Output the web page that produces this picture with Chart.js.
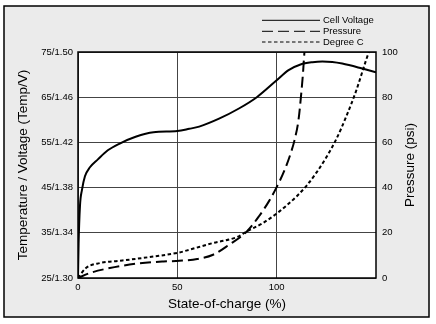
<!DOCTYPE html>
<html>
<head>
<meta charset="utf-8">
<script src="https://cdn.jsdelivr.net/npm/chart.js@4/dist/chart.umd.min.js"></script>
<style>
  html, body { margin: 0; padding: 0; background: #fff; }
  canvas { display: block; }
</style>
</head>
<body>
<canvas id="mychart" width="436" height="324"></canvas>
<script>
// state-of-charge (%) / values
const voltSoc = [0, 0.3, 1, 2, 3.5, 6, 10, 15, 21, 29, 38, 50, 56, 61, 71, 81, 90, 100, 106, 112, 118, 123, 128, 133, 143, 150];
const cellVoltage = [1.300, 1.330, 1.364, 1.378, 1.390, 1.398, 1.405, 1.413, 1.419, 1.425, 1.429, 1.430, 1.432, 1.434, 1.441, 1.450, 1.460, 1.475, 1.484, 1.489, 1.491, 1.4916, 1.4912, 1.4898, 1.4854, 1.4820];

const pressSoc = [0, 6, 16, 29, 43, 51, 60, 68, 76, 85, 91, 96, 100, 104, 107, 109, 111, 112.2, 113.2, 114, 115];
const pressure = [0, 2.2, 4.4, 6.3, 7.3, 7.6, 8.4, 10.3, 14.7, 20.6, 27.2, 33.8, 40.2, 47.8, 55, 61, 70, 80, 90, 100, 106];

const tempSoc = [0, 4, 11, 21, 38, 51, 56, 68, 80, 85, 93, 100, 105, 110, 115, 120, 125, 130, 135, 140, 145, 148];
const degreeC = [25, 27.2, 28.3, 28.8, 29.75, 30.65, 31.25, 32.75, 34.05, 35.3, 37.15, 39.25, 41.05, 43.05, 45.4, 48.3, 51.7, 55.7, 60.7, 66.4, 73.2, 77];

const xTicks = [0, 50, 100];
const leftTickLabels = ['25/1.30', '35/1.34', '45/1.38', '55/1.42', '65/1.46', '75/1.50'];
const rightTicks = [0, 20, 40, 60, 80, 100];

const FONT = "'Liberation Sans', Arial, sans-serif";

function pts(xs, ys) {
    return xs.map((x, i) => ({ x: x, y: ys[i] }));
}

// gray panel + frame round the plot, custom legend, right title
const decor = {
    id: 'decor',
    beforeDraw(chart) {
        const c = chart.ctx;
        const a = chart.chartArea;
        c.save();
        c.fillStyle = '#fff';
        c.fillRect(0, 0, chart.width, chart.height);
        c.fillStyle = '#ebebeb';
        c.fillRect(4, 6, 425, 311);
        c.strokeStyle = '#000';
        c.lineWidth = 1.5;
        c.strokeRect(4, 6, 425, 311);
        c.fillStyle = '#fff';
        c.fillRect(a.left, a.top, a.right - a.left, a.bottom - a.top);
        c.restore();
    },
    afterDraw(chart) {
        const c = chart.ctx;
        const a = chart.chartArea;
        c.save();
        c.strokeStyle = '#000';
        c.lineWidth = 1.5;
        c.strokeRect(a.left, a.top, a.right - a.left, a.bottom - a.top);

        // legend
        c.font = '9.5px ' + FONT;
        c.textBaseline = 'middle';
        c.fillStyle = '#000';
        const rows = [20.3, 31.3, 42];
        chart.data.datasets.forEach((ds, i) => {
            c.beginPath();
            c.lineWidth = 1;
            c.setLineDash(ds.borderDash || []);
            c.moveTo(262, rows[i]);
            c.lineTo(320, rows[i]);
            c.stroke();
            c.setLineDash([]);
            c.fillText(ds.label, 323, rows[i]);
        });

        // right axis title, reads bottom to top
        c.translate(410, (a.top + a.bottom) / 2);
        c.rotate(-Math.PI / 2);
        c.font = '13.5px ' + FONT;
        c.textAlign = 'center';
        c.fillText('Pressure (psi)', 0, 0);
        c.restore();
    }
};

const ctx = document.getElementById('mychart');
const myChart = new Chart(ctx, {
    type: 'line',
    data: {
        datasets: [{
            label: 'Cell Voltage',
            data: pts(voltSoc, cellVoltage),
            yAxisID: 'yv',
            borderColor: '#000',
            borderWidth: 2,
        }, {
            label: 'Pressure',
            data: pts(pressSoc, pressure),
            yAxisID: 'yp',
            borderColor: '#000',
            borderWidth: 2,
            borderDash: [11, 5],
        }, {
            label: 'Degree C',
            data: pts(tempSoc, degreeC),
            yAxisID: 'y',
            borderColor: '#000',
            borderWidth: 2,
            borderDash: [3.5, 2.5],
        }]
    },
    options: {
        responsive: false,
        animation: false,
        devicePixelRatio: 1,
        layout: { padding: { top: 52 } },
        elements: {
            point: { radius: 0 },
            line: { cubicInterpolationMode: 'monotone', fill: false }
        },
        plugins: {
            legend: { display: false },
            tooltip: { enabled: false }
        },
        scales: {
            x: {
                type: 'linear',
                min: 0,
                max: 150,
                afterBuildTicks: (s) => { s.ticks = xTicks.map(v => ({ value: v })); },
                afterFit: (s) => { s.height = 46; },
                grid: { color: '#444', lineWidth: 1, drawTicks: false },
                border: { display: false },
                ticks: { color: '#000', padding: 4, font: { family: FONT, size: 9.5 } },
                title: {
                    display: true,
                    text: 'State-of-charge (%)',
                    color: '#000',
                    font: { family: FONT, size: 13.5 },
                    padding: { top: 0, bottom: 12 }
                }
            },
            y: {
                position: 'left',
                min: 25,
                max: 75,
                afterFit: (s) => { s.width = 78; },
                grid: { color: '#444', lineWidth: 1, drawTicks: false },
                border: { display: false },
                ticks: {
                    stepSize: 10,
                    color: '#000',
                    padding: 5,
                    font: { family: FONT, size: 9.5 },
                    callback: (v, i) => leftTickLabels[i]
                },
                title: {
                    display: true,
                    text: 'Temperature / Voltage (Temp/V)',
                    color: '#000',
                    font: { family: FONT, size: 13.5 },
                    padding: { top: 15, bottom: 0 }
                }
            },
            yp: {
                position: 'right',
                min: 0,
                max: 100,
                afterBuildTicks: (s) => { s.ticks = rightTicks.map(v => ({ value: v })); },
                afterFit: (s) => { s.width = 60; },
                grid: { display: false, drawTicks: false },
                border: { display: false },
                ticks: { color: '#000', padding: 6, font: { family: FONT, size: 9.5 } }
            },
            yv: {
                display: false,
                min: 1.30,
                max: 1.50
            }
        }
    },
    plugins: [decor]
});
</script>
</body>
</html>
